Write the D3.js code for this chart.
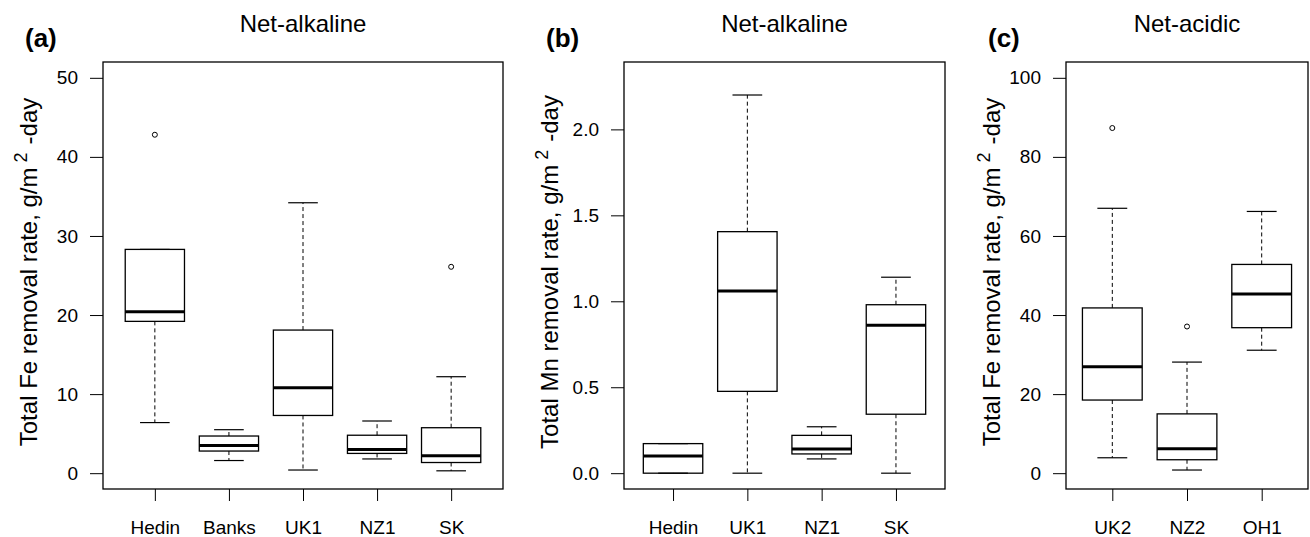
<!DOCTYPE html>
<html>
<head>
<meta charset="utf-8">
<title>Removal rate boxplots</title>
<script src="https://d3js.org/d3.v7.min.js"></script>
<style>
  body { margin: 0; background: #fff; }
  svg { font-family: "Liberation Sans", Arial, Helvetica, sans-serif; }
  .frame { fill: none; stroke: #000; stroke-width: 1.3px; }
  .axis path { display: none; }
  .axis line { stroke: #000; stroke-width: 1px; }
  .axis text { font-size: 19px; fill: #000; }
</style>
</head>
<body>
<svg width="1310" height="537"></svg>
<script>
// (a) Total Fe, net-alkaline
var aSites = ["Hedin", "Banks", "UK1", "NZ1", "SK"];
var aLow   = [6.4, 1.6, 0.4, 1.8, 0.3];
var aQ1    = [19.2, 2.8, 7.3, 2.5, 1.35];
var aMed   = [20.4, 3.5, 10.8, 3.0, 2.2];
var aQ3    = [28.3, 4.7, 18.1, 4.8, 5.75];
var aHigh  = [28.3, 5.5, 34.2, 6.6, 12.2];
var aOut   = [[42.8], [], [], [], [26.1]];
var aTicks = [0, 10, 20, 30, 40, 50];

// (b) Total Mn, net-alkaline
var bSites = ["Hedin", "UK1", "NZ1", "SK"];
var bLow   = [0, 0, 0.083, 0];
var bQ1    = [0, 0.476, 0.112, 0.343];
var bMed   = [0.1, 1.06, 0.14, 0.86];
var bQ3    = [0.172, 1.405, 0.22, 0.98];
var bHigh  = [0.172, 2.2, 0.27, 1.14];
var bOut   = [[], [], [], []];
var bTicks = [0, 0.5, 1.0, 1.5, 2.0];

// (c) Total Fe, net-acidic
var cSites = ["UK2", "NZ2", "OH1"];
var cLow   = [3.9, 0.8, 31.1];
var cQ1    = [18.5, 3.4, 36.8];
var cMed   = [26.9, 6.2, 45.3];
var cQ3    = [41.8, 15.0, 52.8];
var cHigh  = [67.0, 28.1, 66.2];
var cOut   = [[87.3], [37.1], []];
var cTicks = [0, 20, 40, 60, 80, 100];

var panels = [
  { tag: "(a)", title: "Net-alkaline", metal: "Fe", left: 103, width: 400, ylim: [0, 50],
    sites: aSites, low: aLow, q1: aQ1, med: aMed, q3: aQ3, high: aHigh, out: aOut, ticks: aTicks, fmt: d3.format("d") },
  { tag: "(b)", title: "Net-alkaline", metal: "Mn", left: 624, width: 321, ylim: [0, 2.3],
    sites: bSites, low: bLow, q1: bQ1, med: bMed, q3: bQ3, high: bHigh, out: bOut, ticks: bTicks, fmt: d3.format(".1f") },
  { tag: "(c)", title: "Net-acidic", metal: "Fe", left: 1066, width: 242, ylim: [0, 100],
    sites: cSites, low: cLow, q1: cQ1, med: cMed, q3: cQ3, high: cHigh, out: cOut, ticks: cTicks, fmt: d3.format("d") }
];

var plotTop = 62, plotBottom = 489;
var svg = d3.select("svg");

panels.forEach(function(p) {
  var n = p.sites.length;
  // R style 4% padding on both axes
  var yr = p.ylim[1] - p.ylim[0];
  var y = d3.scaleLinear()
    .domain([p.ylim[0] - 0.04 * yr, p.ylim[1] + 0.04 * yr])
    .range([plotBottom, plotTop]);
  var x = d3.scaleLinear()
    .domain([0.5 - 0.04 * n, n + 0.5 + 0.04 * n])
    .range([p.left, p.left + p.width]);
  var unit = x(1) - x(0);
  var half = unit * 0.4, cap = unit * 0.2;

  var g = svg.append("g");

  // axes
  g.append("g").attr("class", "axis")
    .attr("transform", "translate(" + p.left + ",0)")
    .call(d3.axisLeft(y).tickValues(p.ticks).tickFormat(p.fmt).tickSize(13).tickPadding(12));
  g.append("g").attr("class", "axis")
    .attr("transform", "translate(0," + plotBottom + ")")
    .call(d3.axisBottom(x).tickValues(d3.range(1, n + 1))
      .tickFormat(function(d) { return p.sites[d - 1]; }).tickSize(12).tickPadding(20));

  // boxes
  var boxes = g.selectAll(".box").data(p.sites).enter().append("g").attr("class", "box");

  boxes.append("line")
    .attr("x1", function(d, i) { return x(i + 1); })
    .attr("x2", function(d, i) { return x(i + 1); })
    .attr("y1", function(d, i) { return y(p.q3[i]); })
    .attr("y2", function(d, i) { return y(p.high[i]); })
    .attr("stroke", "#000").attr("stroke-dasharray", "4,3");
  boxes.append("line")
    .attr("x1", function(d, i) { return x(i + 1); })
    .attr("x2", function(d, i) { return x(i + 1); })
    .attr("y1", function(d, i) { return y(p.q1[i]); })
    .attr("y2", function(d, i) { return y(p.low[i]); })
    .attr("stroke", "#000").attr("stroke-dasharray", "4,3");

  ["low", "high"].forEach(function(k) {
    boxes.append("line")
      .attr("x1", function(d, i) { return x(i + 1) - cap; })
      .attr("x2", function(d, i) { return x(i + 1) + cap; })
      .attr("y1", function(d, i) { return y(p[k][i]); })
      .attr("y2", function(d, i) { return y(p[k][i]); })
      .attr("stroke", "#000").attr("stroke-width", 1.2);
  });

  boxes.append("rect")
    .attr("x", function(d, i) { return x(i + 1) - half; })
    .attr("width", 2 * half)
    .attr("y", function(d, i) { return y(p.q3[i]); })
    .attr("height", function(d, i) { return y(p.q1[i]) - y(p.q3[i]); })
    .attr("fill", "none").attr("stroke", "#000").attr("stroke-width", 1.3);

  boxes.append("line")
    .attr("x1", function(d, i) { return x(i + 1) - half; })
    .attr("x2", function(d, i) { return x(i + 1) + half; })
    .attr("y1", function(d, i) { return y(p.med[i]); })
    .attr("y2", function(d, i) { return y(p.med[i]); })
    .attr("stroke", "#000").attr("stroke-width", 3);

  boxes.each(function(d, i) {
    d3.select(this).selectAll("circle").data(p.out[i]).enter().append("circle")
      .attr("cx", x(i + 1))
      .attr("cy", function(v) { return y(v); })
      .attr("r", 2.5)
      .attr("fill", "none").attr("stroke", "#000").attr("stroke-width", 1);
  });

  // frame
  g.append("rect").attr("class", "frame")
    .attr("x", p.left).attr("y", plotTop)
    .attr("width", p.width).attr("height", plotBottom - plotTop);

  // titles
  g.append("text")
    .attr("x", p.left + p.width / 2).attr("y", 32)
    .attr("text-anchor", "middle").attr("font-size", 24)
    .text(p.title);
  g.append("text")
    .attr("x", p.left - 78).attr("y", 47)
    .attr("font-size", 26).attr("font-weight", "bold")
    .text(p.tag);

  // y label with superscript
  var lab = g.append("text")
    .attr("transform", "translate(" + (p.left - 66) + "," + 272 + ") rotate(-90)")
    .attr("text-anchor", "middle").attr("font-size", 24);
  lab.append("tspan").text("Total " + p.metal + " removal rate, g/m");
  lab.append("tspan").attr("font-size", 18).attr("dx", 5).attr("dy", -10).text("2");
  lab.append("tspan").attr("dx", 8).attr("dy", 10).text("-day");
});
</script>
</body>
</html>
